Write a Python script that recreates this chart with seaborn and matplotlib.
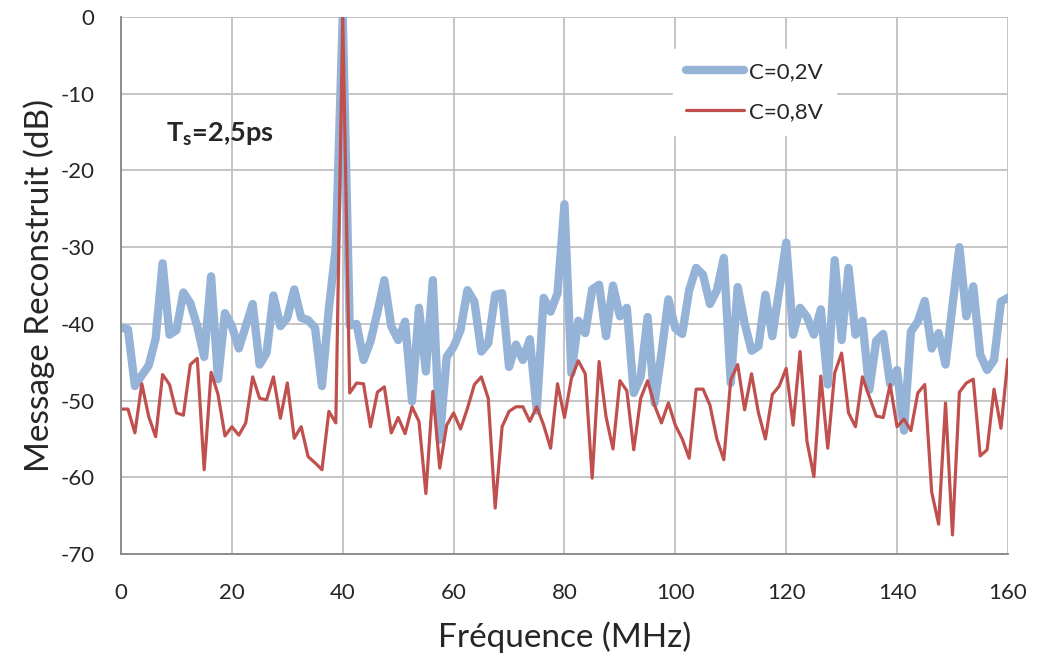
import numpy as np
import pandas as pd
import matplotlib
matplotlib.use("Agg")
import matplotlib.pyplot as plt
import seaborn as sns

# frequency bins (MHz), 1.25 MHz step
freq = np.arange(129) * 1.25

c02 = [-40.5, -40.7, -48.1, -46.7, -45.4, -41.9, -32.1, -41.4, -40.8, -35.9,
       -37.3, -40.3, -44.3, -33.8, -47.2, -38.6, -40.3, -43.2, -40.3, -37.4,
       -45.3, -43.8, -36.3, -40.3, -39.2, -35.5, -39.2, -39.5, -40.5, -48.1,
       -38.0, -30.0, 0.0, -40.2, -40.0, -44.7, -42.3, -38.5, -34.3, -40.3,
       -42.1, -39.7, -50.1, -37.9, -46.2, -34.3, -55.1, -44.3, -43.0, -40.8,
       -35.6, -37.1, -43.6, -42.5, -36.2, -36.0, -45.6, -42.7, -44.7, -42.0,
       -51.3, -36.6, -38.4, -36.0, -24.4, -46.4, -39.6, -41.2, -35.5, -34.9,
       -41.6, -35.0, -39.0, -37.9, -49.0, -46.9, -39.1, -50.3, -43.8, -36.8,
       -40.6, -41.3, -35.6, -32.7, -33.6, -37.4, -35.6, -31.4, -47.7, -35.2,
       -39.9, -43.5, -42.9, -36.2, -41.6, -35.6, -29.4, -41.4, -37.9, -39.1,
       -41.4, -38.1, -47.9, -31.7, -42.1, -32.7, -41.4, -39.6, -48.6, -42.2,
       -41.3, -47.8, -46.0, -53.9, -41.0, -39.7, -37.0, -43.2, -41.2, -45.3,
       -37.7, -30.0, -39.0, -35.1, -44.0, -46.0, -44.7, -37.1, -36.6]

c08 = [-51.1, -51.1, -54.2, -47.8, -52.1, -54.7, -46.6, -47.9, -51.6, -51.9,
       -45.3, -44.5, -59.0, -46.3, -49.2, -54.6, -53.4, -54.5, -52.9, -46.9,
       -49.7, -49.9, -46.9, -52.3, -47.7, -54.9, -53.4, -57.3, -58.1, -59.0,
       -51.4, -52.9, 0.0, -49.0, -47.7, -47.8, -53.4, -48.9, -48.2, -54.2,
       -52.2, -54.3, -50.8, -52.7, -62.1, -48.8, -58.8, -53.2, -51.6, -53.7,
       -51.0, -47.9, -46.9, -49.7, -64.0, -53.4, -51.4, -50.8, -50.8, -52.7,
       -50.8, -53.2, -56.2, -47.8, -52.2, -47.1, -44.8, -46.5, -60.1, -44.9,
       -52.1, -56.3, -47.4, -48.7, -56.4, -49.7, -47.4, -50.6, -52.9, -50.3,
       -53.2, -55.0, -57.5, -48.5, -48.5, -50.6, -55.0, -57.7, -47.3, -45.3,
       -51.2, -46.5, -51.6, -55.0, -49.2, -48.1, -45.8, -53.2, -43.6, -55.3,
       -59.9, -46.8, -56.2, -46.4, -43.8, -51.6, -53.4, -46.9, -49.5, -52.0,
       -52.2, -47.9, -53.4, -52.4, -53.9, -49.0, -47.9, -61.9, -66.1, -50.3,
       -67.5, -48.9, -47.7, -47.2, -57.2, -56.4, -48.5, -53.6, -44.6]

xticks = [0, 20, 40, 60, 80, 100, 120, 140, 160]
yticks = [0, -10, -20, -30, -40, -50, -60, -70]

sns.set_style("white")
plt.rcParams['font.family'] = ['Lato', 'DejaVu Sans']
plt.rcParams['axes.unicode_minus'] = False
plt.rcParams['mathtext.fontset'] = 'custom'
plt.rcParams['mathtext.rm'] = 'Lato'
plt.rcParams['mathtext.bf'] = 'Lato:bold'

df = pd.DataFrame({'f': freq, 'C=0,2V': c02, 'C=0,8V': c08})

fig = plt.figure(figsize=(10.38, 6.66), dpi=100)
ax = fig.add_axes([0.1166, 0.168, 0.8544, 0.8065])

sns.lineplot(data=df, x='f', y='C=0,2V', ax=ax, color='#95B3D7', linewidth=6.0,
             label='C=0,2V', solid_joinstyle='round', solid_capstyle='round')
sns.lineplot(data=df, x='f', y='C=0,8V', ax=ax, color='#C0504D', linewidth=2.3,
             label='C=0,8V', solid_joinstyle='round')

ax.set_xlim(0, 160)
ax.set_ylim(-70, 0)
ax.set_xticks(xticks)
ax.set_yticks(yticks)
ax.grid(True, color='#c0c0c0', linewidth=1.3)
ax.set_axisbelow(True)
for s in ['top', 'right']:
    ax.spines[s].set_visible(False)
for s in ['left', 'bottom']:
    ax.spines[s].set_color('#868686')
    ax.spines[s].set_linewidth(1.3)
ax.tick_params(axis='both', labelsize=16, length=5, color='#868686', width=1.3, pad=14)
ax.tick_params(axis='x', pad=16)
ax.set_xlabel('Fréquence (MHz)', fontsize=24, labelpad=13)
ax.set_ylabel('Message Reconstruit (dB)', fontsize=24, labelpad=4)

ax.text(8.2, -15.3, r'$\mathbf{T_s}$=2,5ps', fontsize=19.5, fontweight='bold', va='center')

leg = ax.legend(loc='upper left', bbox_to_anchor=(0.61, 0.962), fontsize=16,
                frameon=True, facecolor='white', edgecolor='white', framealpha=1,
                fancybox=False, handlelength=2.6, handletextpad=0.2,
                labelspacing=0.9, borderpad=0.6)

fig.savefig('out.png', dpi=100)
